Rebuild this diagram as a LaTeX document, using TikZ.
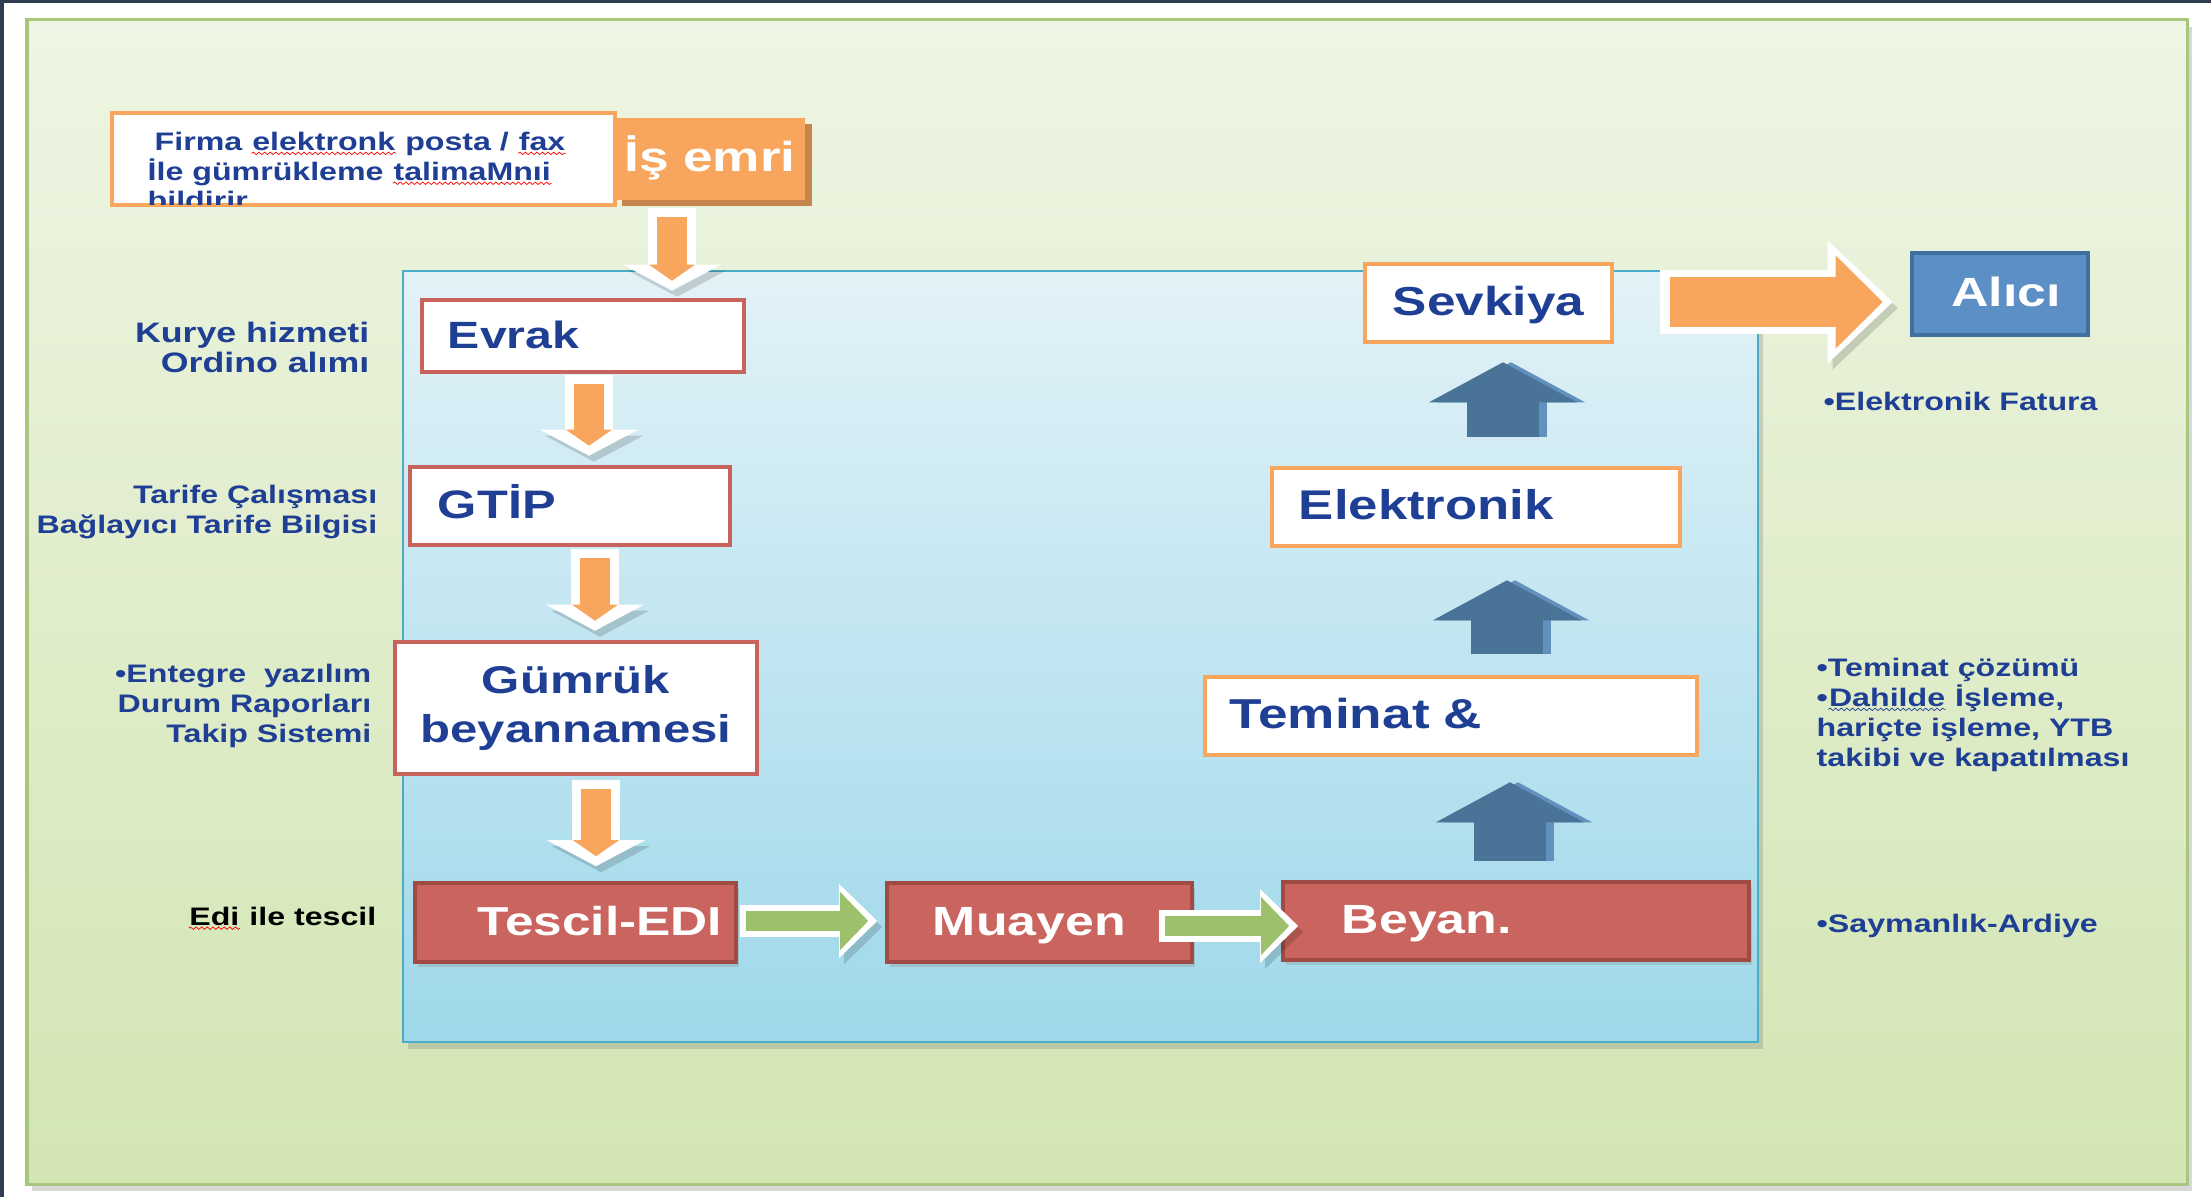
\documentclass[tikz,border=0pt]{standalone}
\usepackage{fontspec}
\setmainfont[FakeStretch=1.27]{Liberation Sans}
\usetikzlibrary{arrows.meta,calc,shadows,decorations.pathmorphing}

\definecolor{framedark}{HTML}{2F3E4F}
\definecolor{greentop}{HTML}{EEF5E4}
\definecolor{greenbot}{HTML}{D2E5B2}
\definecolor{greenline}{HTML}{A7C77E}
\definecolor{bluetop}{HTML}{E2F2F7}
\definecolor{bluebot}{HTML}{9ED8EA}
\definecolor{blueline}{HTML}{4BACC6}
\definecolor{orfill}{HTML}{F8A55E}
\definecolor{orshade}{HTML}{C6854D}
\definecolor{redline}{HTML}{C8625D}
\definecolor{redfill}{HTML}{C9645E}
\definecolor{reddark}{HTML}{A04A45}
\definecolor{navytext}{HTML}{1F3F95}
\definecolor{steelarrow}{HTML}{4A7398}
\definecolor{steellight}{HTML}{6391BF}
\definecolor{alicifill}{HTML}{5B8FC6}
\definecolor{aliciline}{HTML}{41709E}
\definecolor{greenarrow}{HTML}{9DC06A}

% wavy spell-check mark under a word
\newcommand\spellmark[2][red]{\tikz[baseline=(spellword.base)]{\node[inner sep=0pt] (spellword) {#2};
  \draw[#1, line width=0.2pt, decorate, decoration={snake, amplitude=0.35pt, segment length=1.6pt}]
    ([yshift=-0.9pt]spellword.base west) -- ([yshift=-0.9pt]spellword.base east);}}

\tikzset{
  panelshadow/.style={drop shadow={opacity=0.3, shadow xshift=0.5mm, shadow yshift=-0.7mm}},
  greenpanel/.style={top color=greentop, bottom color=greenbot, draw=greenline, line width=0.3mm, panelshadow},
  bluepanel/.style={top color=bluetop, bottom color=bluebot, draw=blueline, line width=0.25mm, panelshadow},
  sized/.style 2 args={minimum width=#1, minimum height=#2},
  boxtext/.style={font=\bfseries\fontsize{11.3}{13.7}\selectfont, inner xsep=0pt, inner ysep=0pt},
  oneline/.style={text height=0.72em, text depth=0pt},
  obox/.style={boxtext, draw=orfill, line width=0.45mm, fill=white, text=navytext},
  rbox/.style={boxtext, draw=redline, line width=0.45mm, fill=white, text=navytext},
  rfill/.style={boxtext, oneline, draw=reddark, line width=0.35mm, fill=redfill, text=white,
    drop shadow={opacity=0.25, shadow xshift=0.3mm, shadow yshift=-0.5mm}},
  isbox/.style={boxtext, oneline, font=\bfseries\fontsize{11.9}{14}\selectfont, fill=orfill, text=white,
    drop shadow={opacity=1, fill=orshade, shadow xshift=0.7mm, shadow yshift=-0.6mm}},
  alicibox/.style={boxtext, oneline, fill=alicifill, draw=aliciline, line width=0.45mm, text=white},
  sidenote/.style={font=\bfseries\fontsize{7.2}{8.5}\selectfont, text=navytext, inner sep=0pt},
  arrowshadow/.style={preaction={draw=black, opacity=0.15, transform canvas={shift={(0.5mm,-0.6mm)}}}},
  orarrow/.style={draw=white, line width=4.8mm, -{Triangle[length=2.6mm, width=9.8mm, line width=0pt]}, arrowshadow,
    postaction={draw=orfill, line width=3mm, shorten <=0.9mm, shorten >=1mm,
      -{Triangle[length=1.6mm, width=4.6mm, line width=0pt]}}},
  grarrow/.style={draw=white, line width=3.1mm, -{Triangle[length=3.8mm, width=7.4mm, line width=0pt]}, arrowshadow,
    postaction={draw=greenarrow, line width=2mm, shorten <=0.6mm, shorten >=0.9mm,
      -{Triangle[length=2.8mm, width=5.8mm, line width=0pt]}}},
  bigarrow/.style={draw=white, line width=6.4mm, -{Triangle[length=6.5mm, width=12.3mm, line width=0pt]}, arrowshadow,
    postaction={draw=orfill, line width=4.9mm, shorten <=1mm, shorten >=1mm,
      -{Triangle[length=4.7mm, width=9.3mm, line width=0pt]}}},
  uparrow/.style={draw=steelarrow, line width=7.1mm, -{Triangle[length=4mm, width=14.8mm, line width=0pt]},
    preaction={draw=steellight, line width=7.1mm, -{Triangle[length=4mm, width=14.8mm, line width=0pt]},
      transform canvas={xshift=0.8mm}}}
}

\begin{document}
\begin{tikzpicture}[x=0.01cm, y=-0.01cm]
\useasboundingbox (0,0) rectangle (2211,1197);
\fill[white] (0,0) rectangle (2211,1197);
\fill[framedark] (0,0) rectangle (2211,3);
\fill[framedark] (0,0) rectangle (4,1197);

% panels
\path[greenpanel] (27,20) rectangle (2187,1184);
\path[bluepanel] (403,271) rectangle (1758,1042);

% order
\node[obox, sized={50.3mm}{9.2mm}] (firma) at (363.5,159) {};
\begin{scope}
  \clip ([xshift=0.25mm, yshift=0.25mm]firma.south west) rectangle ([xshift=-0.25mm, yshift=-0.25mm]firma.north east);
  \node[sidenote, anchor=base west, align=left] (firmatext) at (147,210)
    {\hspace{2pt}Firma \spellmark{elektronk} posta / \spellmark{fax}\\İle gümrükleme \spellmark{talimaMnıi}\\bildirir};
\end{scope}
\node[isbox, sized={19mm}{8.2mm}] (isemri) at (710,159) {İş emri};

% left column
\node[rbox, oneline, sized={32.2mm}{7.2mm}, text width=27mm, align=left, font=\bfseries\fontsize{10.8}{13}\selectfont] (evrak) at (583,336) {Evrak};
\node[rbox, oneline, sized={32mm}{7.8mm}, text width=26.4mm, align=left] (gtip) at (570,506) {GTİP};
\node[rbox, sized={36.2mm}{13.2mm}, align=center, font=\bfseries\fontsize{11}{13.7}\selectfont] (gumruk) at (576,708) {Gümrük\\beyannamesi};

% bottom row
\node[rfill, sized={32.1mm}{7.9mm}, text width=29.3mm, align=right, font=\bfseries\fontsize{11.5}{13.7}\selectfont] (tescil) at (575.5,922.5) {Tescil-EDI};
\node[rfill, sized={30.5mm}{7.9mm}, text width=21.3mm, align=left, font=\bfseries\fontsize{11.6}{13.7}\selectfont] (muayen) at (1039.5,922.5) {Muayen};
\node[rfill, sized={46.6mm}{7.8mm}, text width=34.8mm, align=left, font=\bfseries\fontsize{11.6}{13.7}\selectfont] (beyan) at (1516,921) {Beyan.};

% right column
\node[obox, oneline, sized={49.2mm}{7.8mm}, text width=44.2mm, align=left, font=\bfseries\fontsize{11.9}{14}\selectfont] (teminat) at (1451,716) {Teminat \&};
\node[obox, oneline, sized={40.8mm}{7.8mm}, text width=35.4mm, align=left, font=\bfseries\fontsize{11.8}{14}\selectfont] (elektronik) at (1476,507) {Elektronik};
\node[obox, oneline, sized={24.7mm}{7.8mm}, align=center, font=\bfseries\fontsize{11.5}{14}\selectfont] (sevkiya) at (1488.5,303) {Sevkiya};
\node[alicibox, sized={17.6mm}{8.2mm}, font=\bfseries\fontsize{11.6}{14}\selectfont] (alici) at (2000,294) {\hspace{1.2mm}Alıcı};

% notes
\node[sidenote, anchor=base east, align=right, font=\bfseries\fontsize{8}{8.8}\selectfont] (kurye) at (370,373) {Kurye hizmeti\\Ordino alımı};
\node[sidenote, anchor=base east, align=right] (tarife) at (378,533) {Tarife Çalışması\\Bağlayıcı Tarife Bilgisi};
\node[sidenote, anchor=base east, align=right] (entegre) at (372,742) {•Entegre~ yazılım\\Durum Raporları\\Takip Sistemi};
\node[sidenote, anchor=base east, text=black] (edi) at (377,925) {\spellmark{Edi} ile tescil};
\node[sidenote, anchor=base west] (fatura) at (1823,410) {•Elektronik Fatura};
\node[sidenote, anchor=base west, align=left] (teminatnot) at (1816,766)
  {•Teminat çözümü\\•\spellmark[navytext]{Dahilde} İşleme,\\hariçte işleme, YTB\\takibi ve kapatılması};
\node[sidenote, anchor=base west] (saymanlik) at (1816,932) {•Saymanlık-Ardiye};

% flow arrows
\draw[orarrow] ($(isemri.south)+(-38,7)$) -- ($(evrak.north)+(89,-7)$);
\draw[orarrow] ($(evrak.south)+(6,1)$) -- ($(gtip.north)+(19,-9)$);
\draw[orarrow] ($(gtip.south)+(25,2)$) -- ($(gumruk.north)+(19,-9)$);
\draw[orarrow] ($(gumruk.south)+(20,4)$) -- ($(tescil.north)+(20.5,-15)$);
\draw[grarrow] ($(tescil.east)+(2,-1.5)$) -- ($(muayen.west)+(-8,-1.5)$);
\draw[grarrow] ($(muayen.east)+(-35,3.5)$) -- ($(beyan.west)+(17,5)$);
\draw[uparrow] ($(beyan.north)+(-6,-19)$) -- ($(teminat.south)+(59,25)$);
\draw[uparrow] ($(teminat.north)+(56,-21)$) -- ($(elektronik.south)+(31,32)$);
\draw[uparrow] ($(elektronik.north)+(27,-29)$) -- ($(sevkiya.south)+(14.5,18)$);
\draw[bigarrow] ($(sevkiya.east)+(46,-1)$) -- ($(alici.west)+(-17,8)$);
\end{tikzpicture}
\end{document}
